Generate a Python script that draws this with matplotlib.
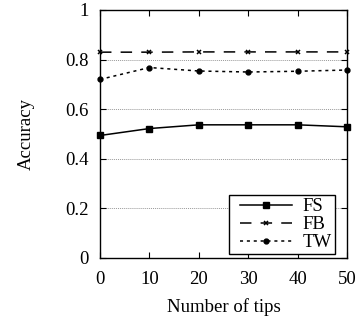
import matplotlib
matplotlib.use("Agg")
import matplotlib.pyplot as plt
from matplotlib.legend_handler import HandlerLine2D

tips = [0, 10, 20, 30, 40, 50]
fs = [0.494, 0.522, 0.537, 0.537, 0.537, 0.529]
fb = [0.830, 0.830, 0.831, 0.831, 0.831, 0.831]
tw = [0.720, 0.768, 0.754, 0.750, 0.753, 0.758]
xticks = [0, 10, 20, 30, 40, 50]
yticks = [0, 0.2, 0.4, 0.6, 0.8, 1]
ytick_labels = ["0", "0.2", "0.4", "0.6", "0.8", "1"]

plt.rcParams['font.family'] = ['Liberation Serif', 'DejaVu Serif']
plt.rcParams['font.size'] = 13.5


class ShiftedHandler(HandlerLine2D):
    def __init__(self, shift, **kw):
        super().__init__(**kw)
        self.shift = shift

    def create_artists(self, legend, orig_handle, xdescent, ydescent, width, height, fontsize, trans):
        return super().create_artists(legend, orig_handle, xdescent - self.shift, ydescent,
                                      width - self.shift, height, fontsize, trans)


fig = plt.figure(figsize=(3.58, 3.2), dpi=100)
ax = fig.add_axes([100/358, 1-258/320, 247/358, 248/320])

for y in [0.2, 0.4, 0.6, 0.8]:
    ax.axhline(y, color='#999999', lw=0.7, ls=(0, (1, 1)), zorder=0)

l1, = ax.plot(tips, fs, color='black', lw=1.1, marker='s', ms=4, label='FS', clip_on=False)
l2, = ax.plot(tips, fb, color='black', lw=1.1, marker='x', ms=3.5, mew=1.1, dashes=(7.5, 6), label='FB', clip_on=False)
l3, = ax.plot(tips, tw, color='black', lw=1.1, marker='o', ms=3.5, dashes=(2, 2.5), label='TW', clip_on=False)

ax.set_xlim(0, 50)
ax.set_ylim(0, 1)
ax.set_xticks(xticks)
ax.set_yticks(yticks)
ax.set_yticklabels(ytick_labels)
ax.tick_params(axis='x', direction='in', length=4, width=0.8, top=True, pad=9)
ax.tick_params(axis='y', direction='in', length=4, width=0.8, right=True, pad=8)
ax.set_xlabel('Number of tips', labelpad=8)
ax.set_ylabel('Accuracy', labelpad=22)
for s in ax.spines.values():
    s.set_linewidth(1.0)

h = ShiftedHandler(6.0)
leg = ax.legend(loc='lower right', bbox_to_anchor=(1.0 - 12/247, 4/248), frameon=True, fancybox=False,
                edgecolor='black', framealpha=1, handlelength=3.2, numpoints=1,
                borderpad=0.15, labelspacing=0.05, handletextpad=0.6, borderaxespad=0,
                handler_map={l1: h, l2: h, l3: h})
leg.get_frame().set_linewidth(1.0)

fig.savefig('out.png', dpi=100)
